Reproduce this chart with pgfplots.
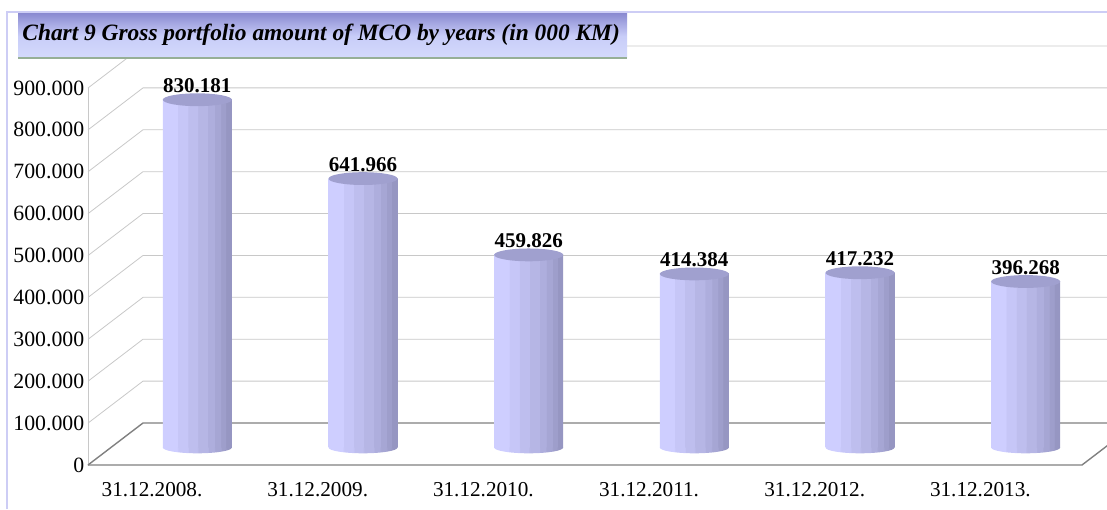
\documentclass[border=0pt]{standalone}
\usepackage{fontspec}
\setmainfont{Liberation Serif}
\usepackage{pgfplots}
\pgfplotsset{compat=1.18}
\definecolor{barTop}{RGB}{160,160,207}
\definecolor{gridc}{RGB}{200,200,200}
\definecolor{floorc}{RGB}{128,128,128}
\definecolor{framec}{RGB}{205,205,245}
\definecolor{titleTop}{RGB}{140,140,210}
\definecolor{titleBot}{RGB}{212,218,252}
\definecolor{titleLine}{RGB}{150,175,150}
\definecolor{cA}{RGB}{206,206,255}
\definecolor{cB}{RGB}{198,198,247}
\definecolor{cC}{RGB}{190,190,238}
\definecolor{cD}{RGB}{182,182,229}
\definecolor{cE}{RGB}{174,174,221}
\definecolor{cF}{RGB}{166,166,212}
\definecolor{cG}{RGB}{158,158,203}
\definecolor{cH}{RGB}{150,150,194}
\pgfdeclarehorizontalshading{cylshade}{100bp}{%
  color(0bp)=(cA); color(35.8bp)=(cA);
  color(35.9bp)=(cB); color(43.1bp)=(cB);
  color(43.2bp)=(cC); color(50.3bp)=(cC);
  color(50.4bp)=(cD); color(57.6bp)=(cD);
  color(57.7bp)=(cE); color(62.6bp)=(cE);
  color(62.7bp)=(cF); color(67bp)=(cF);
  color(67.1bp)=(cG); color(70.6bp)=(cG);
  color(70.7bp)=(cH); color(100bp)=(cH)}
\pgfdeclareplotmark{cyltop}{%
  \pgfpathellipse{\pgfpointorigin}{\pgfqpoint{17.25pt}{0pt}}{\pgfqpoint{0pt}{3.2pt}}%
  \pgfusepath{fill}}
\pgfdeclareplotmark{cylbot}{%
  \pgfpathmoveto{\pgfqpoint{-17.25pt}{0pt}}%
  \pgfpatharc{180}{360}{17.25pt and 2.9pt}%
  \pgfpathclose
  \pgfshadepath{cylshade}{0}%
  \pgfusepath{}}
\pgfplotsset{cyl/.style={ybar, bar width=34.5pt, bar shift=0pt, draw=none, shading=cylshade}}
\begin{document}
\begin{tikzpicture}
\useasboundingbox (0,0) rectangle (553.5pt,254.5pt);
\draw[framec, line width=1pt] (3.5pt,0pt) -- (3.5pt,248.5pt) -- (553.5pt,248.5pt);
\begin{axis}[
  at={(57.25pt,30.75pt)}, anchor=south west,
  scale only axis, width=497pt, height=188.5pt,
  xmin=0, xmax=6, ymin=0, ymax=900,
  clip=false,
  axis line style={draw=none}, major tick length=0pt, tick style={draw=none},
  xtick={0.5,1.5,2.5,3.5,4.5,5.5},
  xticklabels={31.12.2008.,31.12.2009.,31.12.2010.,31.12.2011.,31.12.2012.,31.12.2013.},
  ytick={0,100,200,300,400,500,600,700,800,900},
  yticklabels={0,100.000,200.000,300.000,400.000,500.000,600.000,700.000,800.000,900.000},
  xticklabel style={font=\fontsize{10.6}{12}\selectfont, xshift=-22.65pt, yshift=-13.9pt},
  yticklabel style={font=\fontsize{10.9}{12}\selectfont, xshift=-11.6pt, yshift=-8.75pt},
]
% back wall gridlines with depth diagonals
\draw[gridc] (axis cs:-0.160,58.22) -- (axis cs:0.172,158.49) -- (axis cs:6.3,158.49);
\draw[gridc] (axis cs:-0.160,158.22) -- (axis cs:0.172,258.49) -- (axis cs:6.3,258.49);
\draw[gridc] (axis cs:-0.160,258.22) -- (axis cs:0.172,358.49) -- (axis cs:6.3,358.49);
\draw[gridc] (axis cs:-0.160,358.22) -- (axis cs:0.172,458.49) -- (axis cs:6.3,458.49);
\draw[gridc] (axis cs:-0.160,458.22) -- (axis cs:0.172,558.49) -- (axis cs:6.3,558.49);
\draw[gridc] (axis cs:-0.160,558.22) -- (axis cs:0.172,658.49) -- (axis cs:6.3,658.49);
\draw[gridc] (axis cs:-0.160,658.22) -- (axis cs:0.172,758.49) -- (axis cs:6.3,758.49);
\draw[gridc] (axis cs:-0.160,758.22) -- (axis cs:0.172,858.49) -- (axis cs:6.3,858.49);
\draw[gridc] (axis cs:-0.160,858.22) -- (axis cs:0.172,958.49) -- (axis cs:6.3,958.49);
\draw[gridc] (axis cs:-0.160,-41.78) -- (axis cs:-0.160,858.22);
% floor
\draw[floorc, line width=0.7pt] (axis cs:-0.160,-41.78) -- (axis cs:0.172,58.49) -- (axis cs:6.3,58.49);
\draw[floorc, line width=0.7pt] (axis cs:-0.160,-41.78) -- (axis cs:5.840,-41.78) -- (axis cs:6.172,58.49);
% cylinders: bottoms, bodies, tops
\addplot[only marks, mark=cylbot, mark options={draw=none}] coordinates {(0.5,0) (1.5,0) (2.5,0) (3.5,0) (4.5,0) (5.5,0)};
\addplot[cyl] coordinates {(0.5,830.181)};
\addplot[cyl] coordinates {(1.5,641.966)};
\addplot[cyl] coordinates {(2.5,459.826)};
\addplot[cyl] coordinates {(3.5,414.384)};
\addplot[cyl] coordinates {(4.5,417.232)};
\addplot[cyl] coordinates {(5.5,396.268)};
\addplot[only marks, mark=cyltop, mark options={fill=barTop, draw=none},
  point meta=y, nodes near coords,
  nodes near coords style={font=\fontsize{10.5}{12}\selectfont\bfseries, anchor=base, yshift=3.5pt,
    /pgf/number format/.cd, fixed, fixed zerofill, precision=3, assume math mode=true}]
  coordinates {(0.5,830.181) (1.5,641.966) (2.5,459.826) (3.5,414.384) (4.5,417.232) (5.5,396.268)};
\end{axis}
\shade[top color=titleTop, bottom color=titleBot, middle color={rgb,255:red,200;green,205;blue,248}] (9pt,225.5pt) rectangle (313.5pt,247.5pt);
\draw[titleLine, line width=1pt] (9pt,225.5pt) -- (313.5pt,225.5pt);
\node[anchor=base west, inner sep=0pt, font=\fontsize{11.7}{13}\selectfont\bfseries\itshape] at (11pt,234pt) {Chart 9 Gross portfolio amount of MCO by years (in 000 KM)};
\end{tikzpicture}
\end{document}
